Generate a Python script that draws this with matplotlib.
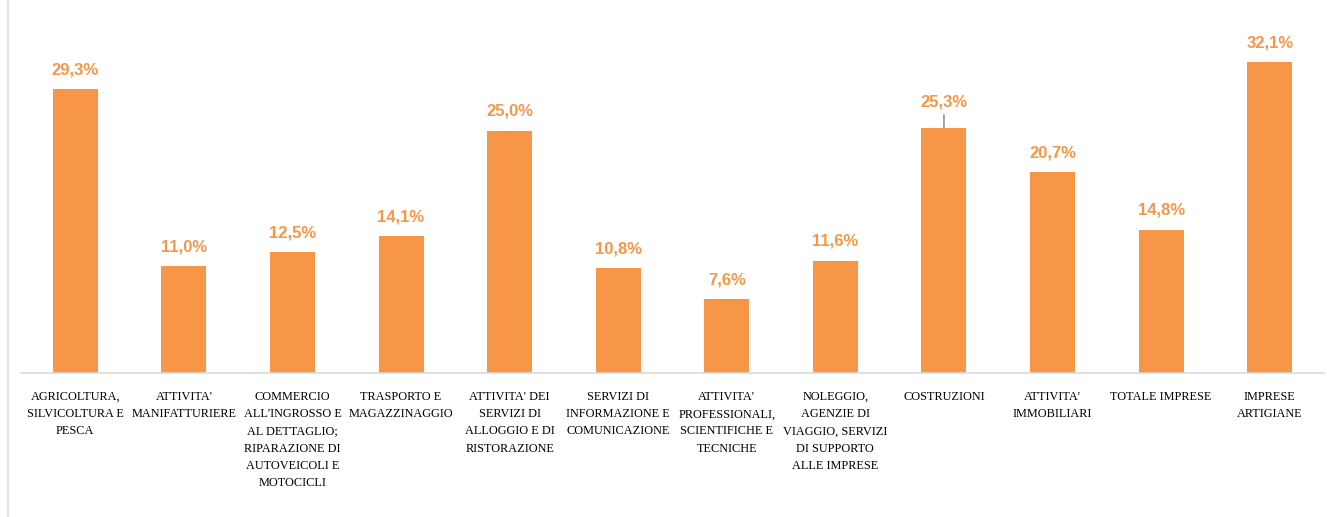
import matplotlib.pyplot as plt

categories = [
    "AGRICOLTURA,\nSILVICOLTURA E\nPESCA",
    "ATTIVITA'\nMANIFATTURIERE",
    "COMMERCIO\nALL'INGROSSO E\nAL DETTAGLIO;\nRIPARAZIONE DI\nAUTOVEICOLI E\nMOTOCICLI",
    "TRASPORTO E\nMAGAZZINAGGIO",
    "ATTIVITA' DEI\nSERVIZI DI\nALLOGGIO E DI\nRISTORAZIONE",
    "SERVIZI DI\nINFORMAZIONE E\nCOMUNICAZIONE",
    "ATTIVITA'\nPROFESSIONALI,\nSCIENTIFICHE E\nTECNICHE",
    "NOLEGGIO,\nAGENZIE DI\nVIAGGIO, SERVIZI\nDI SUPPORTO\nALLE IMPRESE",
    "COSTRUZIONI",
    "ATTIVITA'\nIMMOBILIARI",
    "TOTALE IMPRESE",
    "IMPRESE\nARTIGIANE",
]
values = [29.3, 11.0, 12.5, 14.1, 25.0, 10.8, 7.6, 11.6, 25.3, 20.7, 14.8, 32.1]

bar_color = "#F79646"
label_color = "#F79646"

fig = plt.figure(figsize=(13.27, 5.17), dpi=100)
ax = fig.add_axes([21 / 1327, (517 - 373) / 517, 1303 / 1327, 373 / 517])

x = range(len(values))
ax.bar(x, values, width=0.415, color=bar_color, zorder=2)

lab_font = dict(color=label_color, fontsize=12, fontweight="bold",
                family="Liberation Sans")
for i, v in enumerate(values):
    txt = f"{v:.1f}%".replace(".", ",")
    if i == 8:
        # etichetta spostata con linea guida
        ax.annotate(txt, xy=(i, v), xytext=(i, v + 2.7), ha="center", va="center",
                    arrowprops=dict(arrowstyle="-", color="#7F7F7F", lw=1,
                                    shrinkA=2, shrinkB=0), **lab_font)
    else:
        ax.text(i, v + 2.0, txt, ha="center", va="center", **lab_font)

ax.set_xlim(-0.5, len(values) - 0.5)
ax.set_ylim(0, 38.5)
ax.set_xticks(list(x))
ax.set_xticklabels(categories, family="Liberation Serif", fontsize=8.8,
                   linespacing=1.58, va="top")
ax.tick_params(axis="x", length=0, pad=13)
ax.set_yticks([])
for s in ["top", "right", "left"]:
    ax.spines[s].set_visible(False)
ax.spines["bottom"].set_color("#D9D9D9")
ax.spines["bottom"].set_linewidth(1.2)

# bordo sinistro del riquadro
fig.add_artist(plt.Line2D([8 / 1327, 8 / 1327], [0, 1], color="#D9D9D9", lw=1.2))

fig.savefig("out.png", dpi=100)
